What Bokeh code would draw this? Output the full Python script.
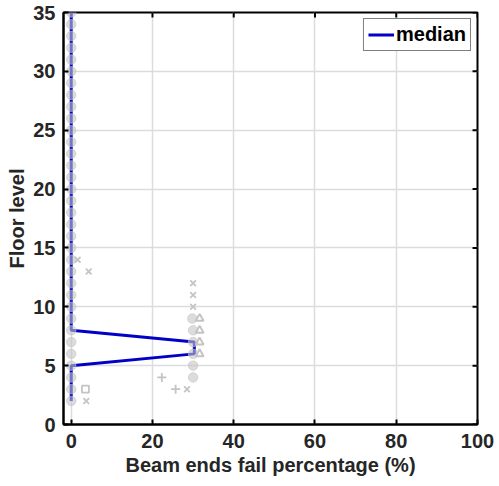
from bokeh.plotting import figure
from bokeh.models import Range1d, Legend, LegendItem, FixedTicker
from bokeh.embed import file_html
from bokeh.resources import INLINE

# ---- data ----
floors = list(range(2, 36))
median = [0, 0, 0, 0, 30.3, 30.3] + [0] * 28  # floors 2..35

# gray record markers
circ_x = [0] * 34 + [30, 30, 30, 30, 30, 29.8]
circ_y = list(range(2, 36)) + [4, 5, 6, 7, 8, 9]
tri_x = [31.6, 31.6, 31.6, 31.6]
tri_y = [6, 7, 8, 9]
cross_x = [30, 30, 30, 1.6, 4.3, 3.7, 28.5]
cross_y = [10, 11, 12, 14, 13, 2, 3]
plus_x = [22.3, 25.7]
plus_y = [4, 3]
sq_x = [3.5]
sq_y = [3]

x_ticks = [0, 20, 40, 60, 80, 100]
y_ticks = [0, 5, 10, 15, 20, 25, 30, 35]

FONT = "Liberation Sans"
TXT = "#262626"
GRAY = "#c4c4c4"
XMIN, XMAX, YMIN, YMAX = -1.9, 100, 0, 35

p = figure(width=499, height=486, output_backend="svg", toolbar_location=None,
           x_range=Range1d(XMIN, XMAX), y_range=Range1d(YMIN, YMAX),
           min_border_left=63, min_border_right=22, min_border_top=12, min_border_bottom=62)

p.outline_line_color = "black"
p.outline_line_width = 2
p.background_fill_color = "white"
p.border_fill_color = "white"

for ax in (p.xaxis[0], p.yaxis[0]):
    ax.major_tick_in = 5
    ax.major_tick_out = 0
    ax.minor_tick_in = 0
    ax.minor_tick_out = 0
    ax.axis_line_width = 2
    ax.axis_line_color = "black"
    ax.major_tick_line_width = 2
    ax.major_label_text_font = FONT
    ax.major_label_text_font_style = "bold"
    ax.major_label_text_font_size = "20px"
    ax.major_label_text_color = TXT
    ax.axis_label_text_font = FONT
    ax.axis_label_text_font_style = "bold"
    ax.axis_label_text_font_size = "20px"
    ax.axis_label_text_color = TXT

p.xaxis[0].ticker = FixedTicker(ticks=x_ticks)
p.yaxis[0].ticker = FixedTicker(ticks=y_ticks)
p.xaxis[0].axis_label = "Beam ends fail percentage (%)"
p.yaxis[0].axis_label = "Floor level"
p.xaxis[0].major_label_standoff = 9
p.yaxis[0].major_label_standoff = 8
p.xaxis[0].axis_label_standoff = 3
p.yaxis[0].axis_label_standoff = 2

p.xgrid.ticker = FixedTicker(ticks=x_ticks)
p.ygrid.ticker = FixedTicker(ticks=y_ticks)
p.grid.grid_line_color = "#dcdcdc"
p.grid.grid_line_width = 1.5

# mirrored inward ticks on top and right edges (box style)
tick_dy = 5 / 11.8
tick_dx = 5 / 4.09
p.segment(x0=x_ticks, y0=[YMAX] * len(x_ticks), x1=x_ticks, y1=[YMAX - tick_dy] * len(x_ticks),
          line_color="black", line_width=2)
p.segment(x0=[XMAX] * len(y_ticks), y0=y_ticks, x1=[XMAX - tick_dx] * len(y_ticks), y1=y_ticks,
          line_color="black", line_width=2)

# median line
ml = p.line(median, floors, line_color="#0000c8", line_width=3)

# gray record markers
p.scatter(circ_x, circ_y, marker="circle", size=9.5, fill_color=GRAY, line_color=GRAY,
          fill_alpha=0.6, line_alpha=0.6)
p.scatter(tri_x, tri_y, marker="triangle", size=8, fill_color=None, line_color=GRAY, line_width=2)
p.scatter(cross_x, cross_y, marker="x", size=8, line_color=GRAY, line_width=1.8)
p.scatter(plus_x, plus_y, marker="cross", size=9, line_color=GRAY, line_width=1.8)
p.scatter(sq_x, sq_y, marker="square", size=7, fill_color=None, line_color=GRAY, line_width=1.8)

legend = Legend(items=[LegendItem(label="median", renderers=[ml])], location="top_right")
legend.label_text_font = FONT
legend.label_text_font_style = "bold"
legend.label_text_font_size = "20px"
legend.label_text_color = "black"
legend.border_line_color = "black"
legend.border_line_width = 1.5
legend.margin = 6
legend.padding = 4
legend.spacing = 0
legend.glyph_width = 26
legend.glyph_height = 23
legend.label_height = 23
legend.label_standoff = 2
legend.background_fill_alpha = 1
p.add_layout(legend, "center")

open("out.html", "w").write(file_html(p, INLINE))
